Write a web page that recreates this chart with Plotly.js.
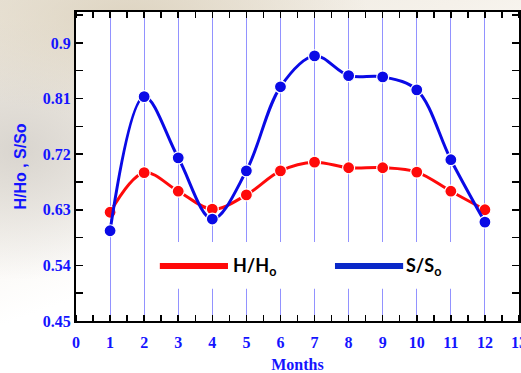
<!DOCTYPE html>
<html>
<head>
<meta charset="utf-8">
<script src="https://cdn.plot.ly/plotly-3.0.1.min.js"></script>
<style>
html,body{margin:0;padding:0;}
body{width:521px;height:373px;overflow:hidden;
background:
 radial-gradient(ellipse 240px 100px at 130px 18px, rgba(220,210,190,0.9), rgba(255,255,255,0) 100%),
 radial-gradient(ellipse 170px 130px at 20px 150px, rgba(212,208,202,0.85), rgba(255,255,255,0) 100%),
 linear-gradient(160deg, #ece7dd 0%, #f5f1ea 30%, #ffffff 58%);}
#chart{width:521px;height:373px;}
</style>
</head>
<body>
<div id="chart"></div>
<script>
const months = [1,2,3,4,5,6,7,8,9,10,11,12];
const hHo = [0.626,0.690,0.660,0.631,0.654,0.693,0.707,0.698,0.698,0.691,0.660,0.630];
const sSo = [0.596,0.813,0.714,0.615,0.693,0.829,0.879,0.847,0.845,0.824,0.711,0.610];
const seriesNames = ["H/H<sub>o</sub>","S/S<sub>o</sub>"];
const xTicks = [0,1,2,3,4,5,6,7,8,9,10,11,12,13];
const yTicks = [0.45,0.54,0.63,0.72,0.81,0.9];
const yTickText = ["0.45","0.54","0.63","0.72","0.81","0.9"];

const red = "#ff0a0a", blue = "#0a0ae6";
const traces = [
  {x: months, y: hHo, name: seriesNames[0], mode: "lines+markers", showlegend:false,
   line:{color:red, width:3, shape:"spline", smoothing:1},
   marker:{color:red, size:12, line:{color:"white", width:1.2}}},
  {x: months, y: sSo, name: seriesNames[1], mode: "lines+markers", showlegend:false,
   line:{color:blue, width:3, shape:"spline", smoothing:1},
   marker:{color:blue, size:12, line:{color:"white", width:1.2}}}
];

const tickFont = {family:"Liberation Serif, Times New Roman, serif", size:16, color:"#1414ff"};
const layout = {
  width:521, height:373,
  margin:{l:76, r:2, t:12, b:52},
  paper_bgcolor:"rgba(0,0,0,0)",
  plot_bgcolor:"#ffffff",
  showlegend:false,
  xaxis:{
    range:[0,13], tickvals:xTicks, ticktext:xTicks.map(t=>"<b>"+t+"</b>"),
    ticks:"", showgrid:true, gridcolor:"rgba(110,110,255,0.75)", gridwidth:1,
    showline:true, linecolor:"#000", linewidth:2, mirror:"allticks",
    minor:{dtick:0.5, tick0:0, ticks:"inside", ticklen:6, tickcolor:"#000", tickwidth:1.5, showgrid:false},
    tickfont:tickFont, zeroline:false, automargin:false, fixedrange:true,
    ticklabelstandoff:6, ticklabeloverflow:"allow",
    title:{text:"<b>Months</b>", font:{family:"Liberation Serif, Times New Roman, serif", size:16, color:"#1414ff"}, standoff:14}
  },
  yaxis:{
    range:[0.45,0.95], tickvals:yTicks, ticktext:yTickText.map(t=>"<b>"+t+"</b>"),
    ticks:"inside", ticklen:7, tickcolor:"#000", tickwidth:1.5,
    showgrid:false, showline:true, linecolor:"#000", linewidth:2, mirror:"allticks",
    minor:{dtick:0.045, tick0:0.45, ticks:"inside", ticklen:7, tickcolor:"#000", tickwidth:1.5, showgrid:false},
    tickfont:tickFont, zeroline:false, automargin:false, fixedrange:true,
    title:{text:"<b>H/Ho , S/So</b>", font:{family:"Liberation Sans, Arial, sans-serif", size:16, color:"#1414ff"}, standoff:12}
  },
  shapes:[
    {type:"rect", xref:"x", yref:"y", x0:2.17, x1:11.56, y0:0.502, y1:0.578, fillcolor:"#ffffff", line:{width:0}, layer:"above"},
    {type:"line", xref:"x", yref:"y", x0:2.46, x1:4.46, y0:0.539, y1:0.539, line:{color:red, width:6}, layer:"above"},
    {type:"line", xref:"x", yref:"y", x0:7.6, x1:9.6, y0:0.539, y1:0.539, line:{color:"#0a28c8", width:6}, layer:"above"}
  ],
  annotations:[
    {xref:"x", yref:"y", x:4.55, y:0.539, xanchor:"left", yanchor:"middle", showarrow:false,
     text:"<b>"+seriesNames[0]+"</b>", font:{family:"Lato, Open Sans, sans-serif", size:18, color:"#000"}},
    {xref:"x", yref:"y", x:9.62, y:0.539, xanchor:"left", yanchor:"middle", showarrow:false,
     text:"<b>"+seriesNames[1]+"</b>", font:{family:"Lato, Open Sans, sans-serif", size:18, color:"#000"}}
  ]
};
Plotly.newPlot("chart", traces, layout, {displayModeBar:false, staticPlot:true});
</script>
</body>
</html>
